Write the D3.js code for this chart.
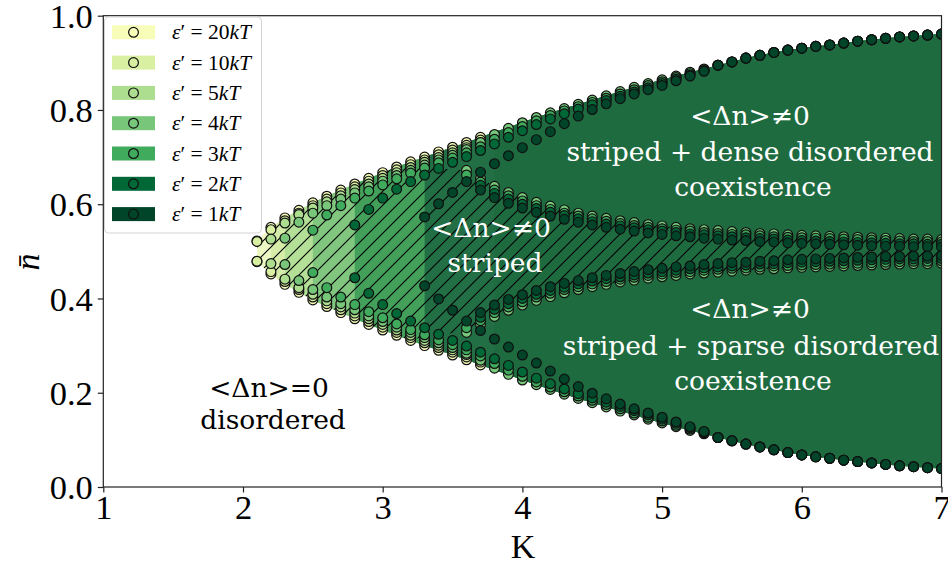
<!DOCTYPE html>
<html>
<head>
<meta charset="utf-8">
<script src="https://cdn.jsdelivr.net/npm/d3@7"></script>
<style>
  html, body { margin: 0; padding: 0; background: #fff; }
  svg { display: block; }
</style>
</head>
<body>
<svg id="chart" width="948" height="566"></svg>
<script>
// ---------- data ----------
const kTicks = [1, 2, 3, 4, 5, 6, 7];
const nTicks = [0.0, 0.2, 0.4, 0.6, 0.8, 1.0];
const epsilonLabels = ["20", "10", "5", "4", "3", "2", "1"];

// first K of each series' boundary points (points every 0.1 in K)
const dotStartK = [2.1, 2.1, 2.2, 2.3, 2.5, 2.8, 3.3];
// whether a series carries on to K = 7 (via the common tail below)
const reachesEdge = [false, false, false, true, true, true, true];
// first K of each shaded band
const fillStartK = [2.1, 2.2, 2.3, 2.5, 2.8, 3.3, 3.8];
// first K of the inner (striped-phase) branches, null where absent
const innerStartK = [null, null, null, 3.6, 3.6, 3.7, 3.7];

// outer boundary points
const top20 = [0.522,0.551,0.571,0.587,0.603,0.617,0.630,0.643,0.655,0.667,
  0.679,0.690,0.700,0.711,0.721,0.731,0.742];
const bottom20 = [0.478,0.452,0.430,0.413,0.397,0.383,0.370,0.357,0.345,0.333,
  0.322,0.311,0.300,0.290,0.280,0.270,0.259];
const top10 = [0.521,0.546,0.565,0.581,0.597,0.611,0.624,0.637,0.649,0.661,
  0.673,0.684,0.694,0.705,0.715,0.725,0.736];
const bottom10 = [0.479,0.457,0.436,0.419,0.403,0.389,0.376,0.363,0.351,0.339,
  0.328,0.317,0.306,0.296,0.286,0.276,0.265];
const top5 = [0.526,0.560,0.578,0.592,0.605,0.618,0.631,0.643,0.655,
  0.667,0.678,0.689,0.699,0.709,0.720,0.731];
const bottom5 = [0.474,0.441,0.423,0.409,0.395,0.382,0.369,0.357,0.345,
  0.333,0.322,0.311,0.301,0.291,0.281,0.270];
const top4 = [0.528,0.562,0.581,0.597,0.611,0.624,0.637,0.649,
  0.661,0.672,0.683,0.694,0.704,0.716,0.731,0.748,0.761,0.773,
  0.784,0.794,0.803,0.812,0.821,0.830,0.839,0.848,0.856,0.864,
  0.872,0.880,0.887];
const bottom4 = [0.472,0.438,0.419,0.403,0.389,0.376,0.363,0.351,
  0.339,0.328,0.317,0.306,0.296,0.284,0.269,0.252,0.239,0.227,
  0.217,0.207,0.197,0.188,0.179,0.170,0.161,0.153,0.144,0.136,
  0.128,0.120,0.113];
const top3 = [0.545,0.577,0.597,0.613,0.628,0.641,
  0.654,0.666,0.677,0.688,0.698,0.709,0.722,0.738,0.752,0.765,
  0.777,0.788,0.798,0.807,0.816,0.825,0.834,0.843,0.852,0.860,
  0.869,0.877,0.885];
const bottom3 = [0.455,0.423,0.403,0.387,0.372,0.359,
  0.346,0.334,0.323,0.312,0.302,0.291,0.278,0.262,0.248,0.235,
  0.223,0.212,0.202,0.193,0.184,0.175,0.166,0.157,0.148,0.140,
  0.131,0.123,0.115];
const top2 = [0.556,0.589,0.613,
  0.632,0.648,0.662,0.676,0.689,0.701,0.714,0.728,0.742,0.756,
  0.769,0.781,0.792,0.802,0.811,0.820,0.829,0.838,0.847,0.856,
  0.865,0.874,0.883];
const bottom2 = [0.444,0.411,0.387,
  0.368,0.352,0.338,0.324,0.311,0.299,0.286,0.272,0.258,0.244,
  0.231,0.219,0.208,0.198,0.189,0.180,0.171,0.162,0.153,0.144,
  0.135,0.126,0.117];
const top1 = [0.573,0.601,0.625,0.648,0.668,0.686,0.703,0.720,
  0.737,0.754,0.771,0.787,0.801,0.813,0.824,0.834,0.843,0.852,
  0.862,0.872,0.882];
const bottom1 = [0.427,0.399,0.375,0.352,0.332,0.314,0.297,0.280,
  0.263,0.246,0.229,0.213,0.199,0.187,0.176,0.166,0.157,0.148,
  0.138,0.128,0.118];

// common outer boundary, K = 5.4 ... 7.0
const outerTopTail = [0.895,0.902,0.910,0.916,0.922,0.927,0.931,0.935,0.938,
  0.942,0.946,0.949,0.952,0.955,0.957,0.959,0.961];
const outerBottomTail = [0.105,0.098,0.091,0.085,0.079,0.073,0.068,0.064,0.061,
  0.057,0.054,0.051,0.048,0.045,0.043,0.041,0.039];

// outermost envelope of the ordered region, K = 2.1 ... 7.0
const envelopeTop = [0.522,0.551,0.571,0.587,0.603,0.617,0.630,0.643,0.655,0.667,
  0.679,0.690,0.700,0.711,0.721,0.731,0.742,0.753,0.763,0.774,
  0.784,0.794,0.803,0.812,0.821,0.830,0.839,0.848,0.856,0.864,
  0.872,0.880,0.887,0.895,0.902,0.910,0.916,0.922,0.927,0.931,
  0.935,0.938,0.942,0.946,0.949,0.952,0.955,0.957,0.959,0.961];
const envelopeBottom = [0.478,0.452,0.430,0.413,0.397,0.383,0.370,0.357,0.345,0.333,
  0.322,0.311,0.300,0.290,0.280,0.270,0.259,0.248,0.238,0.227,
  0.217,0.207,0.197,0.188,0.179,0.170,0.161,0.153,0.144,0.136,
  0.128,0.120,0.113,0.105,0.098,0.091,0.085,0.079,0.073,0.068,
  0.064,0.061,0.057,0.054,0.051,0.048,0.045,0.043,0.041,0.039];

// inner branches, K = innerStart ... 7.0
const innerUpper4 = [0.672,0.655,0.638,0.625,0.614,
  0.604,0.596,0.588,0.581,0.575,0.570,0.565,0.561,0.557,0.554,
  0.551,0.548,0.546,0.544,0.542,0.540,0.538,0.537,0.535,0.534,
  0.533,0.532,0.531,0.530,0.529,0.528,0.527,0.526,0.526,0.525];
const innerLower4 = [0.328,0.345,0.362,0.375,0.386,
  0.396,0.404,0.412,0.419,0.425,0.430,0.435,0.439,0.443,0.446,
  0.449,0.452,0.454,0.456,0.458,0.460,0.462,0.463,0.465,0.466,
  0.467,0.468,0.469,0.470,0.471,0.472,0.473,0.474,0.474,0.475];
const innerUpper3 = [0.662,0.647,0.630,0.618,0.607,
  0.597,0.589,0.581,0.575,0.569,0.564,0.559,0.555,0.551,0.548,
  0.545,0.543,0.540,0.538,0.536,0.535,0.533,0.531,0.530,0.529,
  0.528,0.527,0.526,0.525,0.524,0.523,0.522,0.521,0.521,0.520];
const innerLower3 = [0.338,0.353,0.370,0.382,0.393,
  0.403,0.411,0.419,0.425,0.431,0.436,0.441,0.445,0.449,0.452,
  0.455,0.457,0.460,0.462,0.464,0.465,0.467,0.469,0.470,0.471,
  0.472,0.473,0.474,0.475,0.476,0.477,0.478,0.479,0.479,0.480];
const innerUpper2 = [0.640,0.623,0.611,0.600,
  0.591,0.583,0.576,0.569,0.563,0.558,0.554,0.550,0.546,0.543,
  0.540,0.537,0.535,0.533,0.531,0.529,0.527,0.526,0.524,0.523,
  0.522,0.521,0.520,0.519,0.518,0.517,0.516,0.516,0.515,0.515];
const innerLower2 = [0.360,0.377,0.389,0.400,
  0.409,0.417,0.424,0.431,0.437,0.442,0.446,0.450,0.454,0.457,
  0.460,0.463,0.465,0.467,0.469,0.471,0.473,0.474,0.476,0.477,
  0.478,0.479,0.480,0.481,0.482,0.483,0.484,0.484,0.485,0.485];
const innerUpper1 = [0.630,0.614,0.602,0.592,
  0.583,0.575,0.568,0.562,0.556,0.551,0.547,0.543,0.539,0.536,
  0.533,0.531,0.528,0.526,0.524,0.523,0.521,0.520,0.518,0.517,
  0.516,0.515,0.514,0.513,0.512,0.511,0.511,0.510,0.510,0.509];
const innerLower1 = [0.370,0.386,0.398,0.408,
  0.417,0.425,0.432,0.438,0.444,0.449,0.453,0.457,0.461,0.464,
  0.467,0.469,0.472,0.474,0.476,0.477,0.479,0.480,0.482,0.483,
  0.484,0.485,0.486,0.487,0.488,0.489,0.489,0.490,0.490,0.491];

// hatched striped region, K = 2.1 ... 7.0
const stripedUpper = [0.522,0.551,0.571,0.587,0.603,0.617,0.630,0.643,0.655,0.667,
  0.679,0.690,0.680,0.676,0.674,0.672,0.655,0.638,0.625,0.614,
  0.604,0.596,0.588,0.581,0.575,0.570,0.565,0.561,0.557,0.554,
  0.551,0.548,0.546,0.544,0.542,0.540,0.538,0.537,0.535,0.534,
  0.533,0.532,0.531,0.530,0.529,0.528,0.527,0.526,0.526,0.525];
const stripedLower = [0.478,0.452,0.430,0.413,0.397,0.383,0.370,0.357,0.345,0.333,
  0.322,0.311,0.320,0.324,0.326,0.328,0.345,0.362,0.375,0.386,
  0.396,0.404,0.412,0.419,0.425,0.430,0.435,0.439,0.443,0.446,
  0.449,0.452,0.454,0.456,0.458,0.460,0.462,0.463,0.465,0.466,
  0.467,0.468,0.469,0.470,0.471,0.472,0.473,0.474,0.474,0.475];

// ---------- styles ----------
const seriesColors = ["#f7fcb9", "#d9f0a3", "#addd8e", "#78c679", "#41ab5d", "#006837", "#004529"];
const bandColors   = ["#edf7c3", "#d5eda9", "#b3df97", "#80c67f", "#43a05b", "#236f45", "#1f6b40"];

// ---------- tables built from the arrays ----------
const topHeads = [top20, top10, top5, top4, top3, top2, top1];
const bottomHeads = [bottom20, bottom10, bottom5, bottom4, bottom3, bottom2, bottom1];
const innerUppers = [null, null, null, innerUpper4, innerUpper3, innerUpper2, innerUpper1];
const innerLowers = [null, null, null, innerLower4, innerLower3, innerLower2, innerLower1];

const toPoints = (startK, values) => values.map((v, i) => ({ k: +(startK + i * 0.1).toFixed(1), n: v }));

const series = epsilonLabels.map((lab, s) => ({
  label: lab,
  color: seriesColors[s],
  band: bandColors[s],
  fillStart: fillStartK[s],
  top: toPoints(dotStartK[s], reachesEdge[s] ? topHeads[s].concat(outerTopTail) : topHeads[s]),
  bottom: toPoints(dotStartK[s], reachesEdge[s] ? bottomHeads[s].concat(outerBottomTail) : bottomHeads[s]),
  innerUpper: innerStartK[s] === null ? [] : toPoints(innerStartK[s], innerUppers[s]),
  innerLower: innerStartK[s] === null ? [] : toPoints(innerStartK[s], innerLowers[s])
}));

const envelope = envelopeTop.map((v, i) => ({ k: +(2.1 + i * 0.1).toFixed(1), hi: v, lo: envelopeBottom[i] }));
const striped = stripedUpper.map((v, i) => ({ k: +(2.1 + i * 0.1).toFixed(1), hi: v, lo: stripedLower[i] }));

// ---------- drawing ----------
const svg = d3.select("#chart");
const plot = { left: 103.3, right: 941.5, top: 15.7, bottom: 487 };

const x = d3.scaleLinear().domain([1, 7]).range([plot.left, plot.right]);
const y = d3.scaleLinear().domain([0, 1]).range([plot.bottom, plot.top]);

const defs = svg.append("defs");
defs.append("clipPath").attr("id", "plotClip")
  .append("rect")
  .attr("x", plot.left).attr("y", plot.top)
  .attr("width", plot.right - plot.left).attr("height", plot.bottom - plot.top);

const hatch = defs.append("pattern").attr("id", "hatch")
  .attr("patternUnits", "userSpaceOnUse")
  .attr("width", 14).attr("height", 14);
hatch.append("path")
  .attr("d", "M-2,2 L2,-2 M0,14 L14,0 M12,16 L16,12")
  .attr("stroke", "#000").attr("stroke-width", 1.1).attr("fill", "none");

const g = svg.append("g").attr("clip-path", "url(#plotClip)");

const band = d3.area().x(d => x(d.k)).y0(d => y(d.lo)).y1(d => y(d.hi));

// shaded bands
series.forEach(s => {
  g.append("path")
    .datum(envelope.filter(d => d.k >= s.fillStart - 1e-9))
    .attr("d", band)
    .attr("fill", s.band)
    .attr("stroke", "none");
});

// hatched striped region
g.append("path").datum(striped).attr("d", band)
  .attr("fill", "url(#hatch)").attr("stroke", "none");

// boundary points
series.forEach(s => {
  const pts = s.top.concat(s.bottom, s.innerUpper, s.innerLower);
  g.append("g").selectAll("circle").data(pts).join("circle")
    .attr("cx", d => x(d.k)).attr("cy", d => y(d.n))
    .attr("r", 4.9)
    .attr("fill", s.color)
    .attr("stroke", "#111").attr("stroke-width", 1.2);
});

// region annotations
const serifText = "'DejaVu Serif', serif";
function label(lines, cx, baselines, color) {
  lines.forEach((t, i) => {
    svg.append("text")
      .attr("x", cx[i]).attr("y", baselines[i])
      .attr("text-anchor", "middle")
      .attr("font-family", serifText)
      .attr("font-size", 26.5)
      .attr("fill", color)
      .text(t);
  });
}
label(["<Δn>≠0", "striped"], [491, 495], [237, 272], "#fff");
label(["<Δn>≠0", "striped + dense disordered", "coexistence"], [750, 750, 753], [125, 161, 196], "#fff");
label(["<Δn>≠0", "striped + sparse disordered", "coexistence"], [750, 751, 753], [318, 355, 390], "#fff");
label(["<Δn>=0", "disordered"], [269, 273], [397, 429], "#000");

// axes frame
const axisColor = "#222";
svg.append("rect")
  .attr("x", plot.left).attr("y", plot.top)
  .attr("width", plot.right - plot.left).attr("height", plot.bottom - plot.top)
  .attr("fill", "none").attr("stroke", axisColor).attr("stroke-width", 1.2);

const tickFont = "'Liberation Serif', serif";
const xAxis = svg.append("g").attr("transform", `translate(0,${plot.bottom})`)
  .call(d3.axisBottom(x).tickValues(kTicks).tickFormat(d3.format("d")).tickSize(5.5).tickPadding(3));
const yAxis = svg.append("g").attr("transform", `translate(${plot.left},0)`)
  .call(d3.axisLeft(y).tickValues(nTicks).tickFormat(d3.format(".1f")).tickSize(5.5).tickPadding(5));
[xAxis, yAxis].forEach(a => {
  a.select(".domain").remove();
  a.selectAll(".tick line").attr("stroke", axisColor).attr("stroke-width", 1.2);
  a.selectAll(".tick text").attr("font-family", tickFont).attr("font-size", 34.5).attr("fill", "#000");
});
yAxis.selectAll(".tick text").attr("dy", "0.34em");
xAxis.selectAll(".tick text").attr("dy", "0.68em");

// axis titles
svg.append("text").attr("x", 523).attr("y", 558)
  .attr("text-anchor", "middle").attr("font-family", tickFont).attr("font-size", 34)
  .text("K");
svg.append("text")
  .attr("transform", "translate(39,262) rotate(-90)")
  .attr("text-anchor", "middle").attr("font-family", tickFont).attr("font-size", 34)
  .attr("font-style", "italic")
  .text("n\u0304");

// legend
const legend = svg.append("g");
legend.append("rect")
  .attr("x", 104.5).attr("y", 17).attr("width", 157).attr("height", 216)
  .attr("rx", 4).attr("fill", "#fff").attr("fill-opacity", 0.85)
  .attr("stroke", "#d4d4d4").attr("stroke-width", 1);
series.forEach((s, i) => {
  const cy = 32.3 + i * 30.3;
  legend.append("rect")
    .attr("x", 112).attr("y", cy - 7).attr("width", 43).attr("height", 14)
    .attr("fill", s.color);
  legend.append("circle")
    .attr("cx", 133.5).attr("cy", cy).attr("r", 4.9)
    .attr("fill", "none").attr("stroke", "#111").attr("stroke-width", 1.2);
  const t = legend.append("text")
    .attr("x", 172).attr("y", cy + 7)
    .attr("font-family", tickFont).attr("font-size", 21.5);
  t.append("tspan").attr("font-style", "italic").text("ε");
  t.append("tspan").text("′ = " + s.label);
  t.append("tspan").attr("font-style", "italic").text("kT");
});
</script>
</body>
</html>
